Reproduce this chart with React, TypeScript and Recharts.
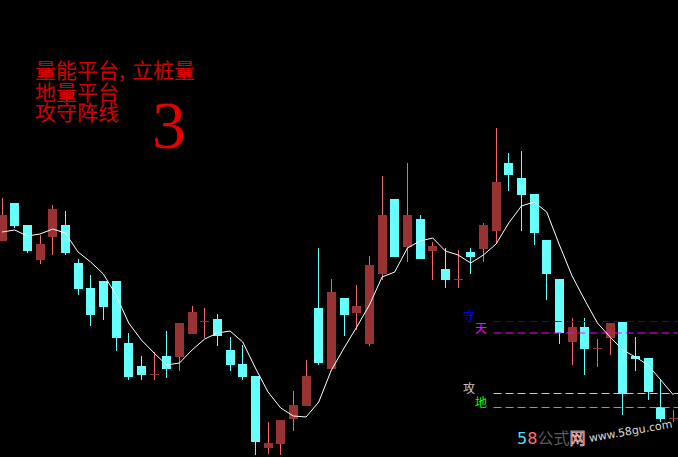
import React from "react";
import { ComposedChart, Bar, Line, XAxis, YAxis, ReferenceLine } from "recharts";

// K-line values (price units, 54 sessions)
const opens = [
  25.9, 29.7, 27.5, 24.0, 26.3, 27.5, 23.7, 21.2, 21.9, 21.9,
  15.7, 13.4, 12.6, 14.4, 14.3, 16.6, 17.9, 18.1, 15.0, 13.6,
  12.4, 5.2, 5.6, 8.1, 9.4, 19.2, 13.1, 20.2, 18.7, 15.6,
  22.6, 30.1, 25.3, 28.1, 24.9, 23.1, 22.1, 24.8, 25.1, 26.9,
  33.7, 32.2, 30.6, 26.0, 22.1, 15.8, 17.3, 15.2, 16.2, 17.8,
  14.4, 14.2, 9.3, 8.2,
];
const closes = [
  28.5, 27.4, 24.9, 25.6, 29.1, 24.7, 21.1, 18.5, 19.3, 16.2,
  12.3, 12.5, 12.6, 13.1, 17.7, 18.8, 17.9, 16.4, 13.5, 12.3,
  5.8, 5.7, 8.0, 9.5, 12.4, 13.7, 20.8, 18.5, 19.4, 23.5,
  28.5, 24.3, 28.5, 24.1, 25.4, 22.0, 22.1, 24.3, 27.5, 31.8,
  32.5, 30.5, 26.7, 22.6, 16.7, 17.3, 15.1, 15.2, 17.7, 10.6,
  14.1, 10.8, 8.1, 8.2,
];
const highs = [
  30.2, 29.7, 27.5, 26.5, 29.5, 28.9, 24.1, 22.5, 21.9, 21.9,
  16.7, 14.4, 14.8, 16.9, 17.7, 19.4, 19.2, 18.6, 16.3, 15.5,
  12.4, 7.8, 8.0, 10.9, 14.0, 25.2, 22.1, 20.2, 21.5, 24.4,
  32.4, 30.1, 33.7, 28.5, 25.8, 25.2, 25.0, 25.2, 27.7, 37.2,
  34.7, 34.9, 30.6, 26.0, 22.1, 18.2, 18.2, 16.1, 17.7, 17.8,
  16.3, 14.2, 12.1, 9.0,
];
const lows = [
  25.9, 27.2, 24.7, 23.6, 24.5, 24.5, 20.5, 17.4, 18.0, 14.9,
  12.0, 12.0, 12.0, 12.2, 12.9, 16.6, 16.2, 15.4, 12.9, 12.0,
  4.5, 4.6, 4.5, 6.9, 9.4, 13.5, 13.1, 16.4, 17.0, 15.4,
  22.0, 24.3, 23.8, 24.1, 22.0, 21.2, 21.2, 22.6, 23.8, 25.6,
  30.9, 26.9, 25.5, 20.0, 15.6, 13.5, 12.5, 13.3, 14.5, 8.5,
  12.9, 10.0, 7.8, 7.8,
];
const maLine = [
  26.8, 27.0, 26.4, 26.6, 27.1, 26.7, 24.8, 23.8, 22.6, 20.5,
  17.7, 16.0, 14.7, 13.5, 13.7, 15.0, 16.1, 16.7, 16.9, 15.8,
  13.2, 10.8, 9.2, 8.4, 8.3, 9.8, 13.0, 15.2, 17.3, 19.5,
  22.3, 22.8, 25.2, 25.9, 26.2, 24.9, 24.5, 23.7, 24.5, 25.6,
  27.7, 29.4, 29.8, 28.8, 25.5, 22.4, 20.0, 17.7, 16.3, 15.0,
  14.3, 13.5, 12.0, 10.5,
];

// 守 / 天 / 攻 / 地 levels
const levels = [
  { name: "守", value: 17.85, color: "#0000ff" },
  { name: "天", value: 16.7, color: "#ff00ff" },
  { name: "攻", value: 10.65, color: "#c8c8c8" },
  { name: "地", value: 9.25, color: "#00ff00" },
];
const levelStart = 38.8;

const X_MIN = -0.16;
const X_MAX = 53.36;
const Y_MIN = 4.3;
const Y_MAX = 50;

const data = opens.map((open, i) => ({
  i,
  open,
  close: closes[i],
  high: highs[i],
  low: lows[i],
  ma: maLine[i],
}));

const CYAN = "#66ffff";
const RED_BODY = "#993333";
const RED_WICK = "#ee6666";

const Candle = (props: any) => {
  const { x, y, width, height, payload } = props;
  if (!payload) return null;
  const top = Math.min(y, y + height);
  const h = Math.abs(height);
  const { open, close, high, low } = payload;
  const k = h / (high - low);
  const yOf = (v: number) => top + (high - v) * k;
  const up = close >= open;
  const cx = Math.floor(x + width / 2) + 0.5;
  const bodyTop = yOf(Math.max(open, close));
  const bodyBot = yOf(Math.min(open, close));
  return (
    <g shapeRendering="crispEdges">
      <line x1={cx} x2={cx} y1={top} y2={top + h} stroke={up ? RED_WICK : CYAN} strokeWidth={1} />
      <rect
        x={Math.round(x)}
        y={bodyTop}
        width={width}
        height={Math.max(1, bodyBot - bodyTop)}
        fill={up ? RED_BODY : CYAN}
      />
    </g>
  );
};

const cjk = '"Noto Sans CJK SC", sans-serif';
const titleStyle: React.CSSProperties = {
  position: "absolute",
  left: 35,
  fontFamily: cjk,
  fontSize: 21,
  lineHeight: "20px",
  color: "#d40000",
  whiteSpace: "nowrap",
};

const App = () => {
  return (
    <div
      style={{
        position: "fixed",
        left: 0,
        top: 0,
        width: 678,
        height: 457,
        background: "#000",
        overflow: "hidden",
      }}
    >
      <ComposedChart width={678} height={457} data={data} margin={{ top: 0, right: 0, bottom: 0, left: 0 }}>
        <XAxis dataKey="i" type="number" domain={[X_MIN, X_MAX]} allowDataOverflow hide />
        <YAxis type="number" domain={[Y_MIN, Y_MAX]} allowDataOverflow hide />
        {levels.map((lv) => (
          <ReferenceLine
            key={lv.name}
            segment={[
              { x: levelStart, y: lv.value },
              { x: X_MAX, y: lv.value },
            ]}
            stroke={lv.color}
            strokeDasharray="8 4"
            strokeWidth={1}
          />
        ))}
        <Bar dataKey={(d: any) => [d.low, d.high]} barSize={9} shape={<Candle />} isAnimationActive={false} />
        <Line
          type="linear"
          dataKey="ma"
          stroke="#ffffff"
          strokeWidth={1}
          dot={false}
          activeDot={false}
          isAnimationActive={false}
        />
      </ComposedChart>

      <div style={{ ...titleStyle, top: 59 }}>
        量能平台<span style={{ display: "inline-block", width: 13 }}>,</span>立桩量
      </div>
      <div style={{ ...titleStyle, top: 81 }}>地量平台</div>
      <div style={{ ...titleStyle, top: 101 }}>攻守阵线</div>
      <div style={{ position: "absolute", left: 152, top: 91, fontFamily: '"Liberation Serif", serif', fontSize: 68, lineHeight: "68px", color: "#e80000" }}>
        3
      </div>

      <div style={{ position: "absolute", left: 463, top: 310, fontFamily: cjk, fontSize: 12, lineHeight: "12px", color: "#0000ff" }}>守</div>
      <div style={{ position: "absolute", left: 475, top: 322, fontFamily: cjk, fontSize: 12, lineHeight: "12px", color: "#ff00ff" }}>天</div>
      <div style={{ position: "absolute", left: 463, top: 382, fontFamily: cjk, fontSize: 12, lineHeight: "12px", color: "#c8c8c8" }}>攻</div>
      <div style={{ position: "absolute", left: 475, top: 396, fontFamily: cjk, fontSize: 12, lineHeight: "12px", color: "#00ff00" }}>地</div>

      <div style={{ position: "absolute", left: 517, top: 429, fontFamily: '"DejaVu Sans", sans-serif', fontSize: 16, lineHeight: "16px", whiteSpace: "nowrap" }}>
        <span style={{ color: "#55ddff" }}>5</span>
        <span style={{ color: "#ff7070" }}>8</span>
        <span style={{ color: "#5a5a5a", fontFamily: cjk }}>公式</span>
        <span style={{ color: "#ee1111", fontFamily: cjk, WebkitTextStroke: "0.5px #ffffff" }}>网</span>
      </div>
      <div
        style={{
          position: "absolute",
          left: 590,
          top: 433,
          fontFamily: '"DejaVu Sans", sans-serif',
          fontSize: 11,
          lineHeight: "11px",
          color: "#d8d8d8",
          whiteSpace: "nowrap",
          transform: "rotate(-10deg)",
          transformOrigin: "0 100%",
        }}
      >
        www.58gu.com
      </div>
    </div>
  );
};

export default App;
